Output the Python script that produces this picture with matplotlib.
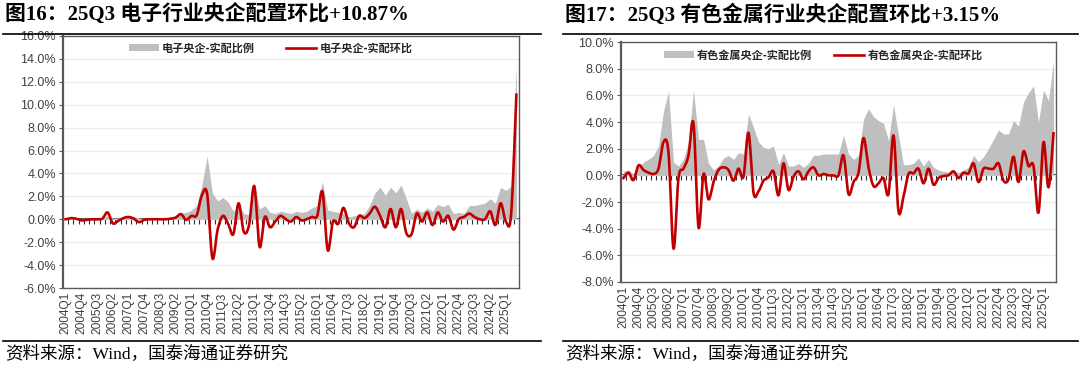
import numpy as np
import matplotlib
matplotlib.use("Agg")
import matplotlib.pyplot as plt
from matplotlib.lines import Line2D
from matplotlib.ticker import FuncFormatter

plt.rcParams['font.family'] = ['Liberation Sans', 'Noto Sans CJK SC']

# ---------------- data ----------------
quarters = [f"{y}Q{q}" for y in range(2004, 2026) for q in range(1, 5)][:87]  # 2004Q1 .. 2025Q3

elec_ratio = [0.05, 0.1, 0.05, 0.0, 0.0, 0.05, 0.05, 0.1, 0.3, 0.1,
              0.1, 0.2, 0.3, 0.25, 0.1, 0.05, 0.05, 0.05, 0.05, 0.05,
              0.1, 0.3, 0.55, 0.6, 0.8, 1.2, 3.0, 5.5, 2.3, 1.6,
              1.9, 1.5, 0.7, 1.3, 0.5, 0.4, 3.1, 0.9, 1.2, 0.6,
              0.5, 0.7, 0.6, 0.5, 0.7, 0.6, 0.7, 1.0, 1.2, 3.3,
              0.8, 0.7, 0.6, 0.5, 0.2, 0.3, 0.4, 0.5, 1.2, 2.3,
              2.8, 2.1, 2.8, 2.3, 3.0, 1.8, 0.5, 0.9, 0.6, 1.0,
              0.7, 1.3, 1.1, 1.3, 0.5, 0.6, 0.5, 1.2, 1.2, 1.3,
              1.4, 1.8, 1.4, 2.8, 2.5, 2.9, 13.7]
elec_qoq = [0.0, 0.1, 0.05, -0.1, -0.05, 0.0, 0.0, 0.05, 0.6, -0.35,
            -0.15, 0.1, 0.2, 0.05, -0.25, -0.05, 0.0, 0.0, 0.0, 0.0,
            0.05, 0.15, 0.45, -0.05, 0.3, 0.35, 2.1, 2.2, -3.4, -0.9,
            0.3, -0.4, -1.3, 1.4, -1.1, -0.5, 2.9, -2.4, 0.2, -0.7,
            -0.2, 0.3, 0.0, -0.2, 0.2, -0.1, 0.0, 0.2, 0.3, 2.4,
            -2.7, -0.2, -0.4, 1.0, -0.3, -0.7, 0.3, 0.1, 0.5, 1.1,
            0.3, -0.7, 0.9, -0.7, 0.9, -1.2, -1.3, 0.5, -0.2, 0.6,
            -0.5, 0.6, -0.2, 0.3, -0.9, 0.0, 0.2, 0.5, 0.2, 0.0,
            0.0, 0.7, -0.5, 1.4, -0.2, 0.45, 10.87]

metal_ratio = [0.3, 0.4, 0.1, 0.6, 1.0, 1.2, 1.5, 2.2, 4.8, 6.3,
               1.0, 0.7, 1.2, 2.5, 6.4, 2.7, 2.7, 0.9, 0.4, 0.7,
               1.3, 1.5, 1.2, 1.7, 1.6, 4.6, 3.6, 2.5, 2.1, 2.0,
               2.2, 0.8, 1.7, 0.7, 0.7, 0.9, 0.6, 0.9, 1.5, 1.5,
               1.6, 1.6, 1.6, 1.6, 3.0, 1.6, 1.2, 1.5, 4.2, 5.0,
               4.4, 4.1, 3.9, 2.6, 5.3, 3.0, 0.8, 0.8, 0.9, 1.3,
               0.7, 1.2, 0.6, 0.4, 0.3, 0.25, 0.4, 0.2, 0.4, 0.6,
               1.5, 1.0, 1.4, 2.0, 2.7, 3.4, 3.1, 3.1, 4.1, 3.7,
               5.5, 6.2, 6.7, 4.0, 6.4, 5.6, 8.6]
metal_qoq = [-0.2, 0.2, -0.35, 0.75, 0.4, 0.2, 0.1, 0.5, 2.5, 1.7,
             -5.5, -0.2, 0.5, 1.5, 3.9, -3.9, 0.1, -1.8, -0.5, 0.4,
             0.6, 0.4, -0.4, 0.5, -0.1, 3.2, -1.3, -1.2, -0.4, -0.15,
             0.3, -1.5, 0.9, -1.1, -0.1, 0.3, -0.3, 0.3, 0.6, 0.0,
             0.1, 0.0, 0.0, 0.0, 1.5, -1.4, -0.5, 0.2, 2.8, 0.6,
             -0.8, -0.6, -0.2, -1.4, 3.0, -2.7, -1.6, 0.1, 0.15, 0.5,
             -0.6, 0.5, -0.7, -0.2, -0.05, 0.0, 0.3, -0.2, 0.2, 0.15,
             0.9, -0.5, 0.5, 0.5, 0.5, 0.9, -0.4, -0.3, 1.4, -0.5,
             1.8, 0.7, 0.7, -2.8, 2.5, -0.9, 3.15]

GRAY = '#BFBFBF'
RED = '#C00000'
AXC = '#595959'
TXT = '#404040'


def smooth(y, n=12):
    """Catmull-Rom style smoothing (like Excel 'smoothed line')."""
    y = np.asarray(y, float)
    x = np.arange(len(y), dtype=float)
    P = np.concatenate([[y[0]], y, [y[-1]]])
    X = np.concatenate([[x[0]], x, [x[-1]]])
    xs, ys = [], []
    t = np.linspace(0, 1, n, endpoint=False)
    for i in range(1, len(P) - 2):
        p0, p1, p2, p3 = P[i - 1], P[i], P[i + 1], P[i + 2]
        x0, x1, x2, x3 = X[i - 1], X[i], X[i + 1], X[i + 2]
        m1y, m2y = (p2 - p0) / 2, (p3 - p1) / 2
        m1x, m2x = (x2 - x0) / 2, (x3 - x1) / 2
        h00 = 2 * t**3 - 3 * t**2 + 1
        h10 = t**3 - 2 * t**2 + t
        h01 = -2 * t**3 + 3 * t**2
        h11 = t**3 - t**2
        xs.append(h00 * x1 + h10 * m1x + h01 * x2 + h11 * m2x)
        ys.append(h00 * p1 + h10 * m1y + h01 * p2 + h11 * m2y)
    xs.append([x[-1]]); ys.append([y[-1]])
    return np.concatenate(xs), np.concatenate(ys)


fig = plt.figure(figsize=(10.8, 3.67), dpi=100)


def panel(rect, ratio, qoq, ylim, lab_ratio, lab_qoq, leg_x, leg_y, colsp):
    ax = fig.add_axes(rect)
    x = np.arange(len(ratio))
    ax.fill_between(x, 0, ratio, color=GRAY, linewidth=0, label=lab_ratio, zorder=2)
    sx, sy = smooth(qoq)
    ax.plot(sx, sy, color=RED, lw=1.9, label=lab_qoq, zorder=4,
            solid_joinstyle='round')
    ax.set_xlim(-0.5, len(ratio) - 0.5)
    ax.set_ylim(*ylim)
    ax.set_yticks(np.arange(ylim[0], ylim[1] + 0.01, 2))
    ax.yaxis.set_major_formatter(FuncFormatter(lambda v, p: f"{v:.1f}%"))
    ax.yaxis.grid(True, color='#EBEBEB', lw=0.8, zorder=0)
    ax.set_axisbelow(True)
    ax.set_xticks(x[::3])
    ax.set_xticklabels(quarters[::3], rotation=90, fontsize=8.6, color=TXT)
    ax.tick_params(axis='x', length=0, pad=3)
    ax.tick_params(axis='y', length=3, width=0.8, color=AXC, labelsize=9,
                   labelcolor=TXT, pad=2)
    for s in ax.spines.values():
        s.set_color(AXC)
        s.set_linewidth(1.0)
    ax.spines['left'].set_linewidth(1.6)
    # zero axis line with category tick marks
    zf = (0 - ylim[0]) / (ylim[1] - ylim[0])
    sec = ax.secondary_xaxis(zf)
    sec.set_xticks(np.arange(-0.5, len(ratio), 1))
    sec.tick_params(axis='x', direction='out', length=3.5, width=0.8,
                    color='#303030', labelbottom=False, labeltop=False)
    for s in sec.spines.values():
        s.set_color('#303030')
        s.set_linewidth(1.2)
    leg = ax.legend(loc='center', bbox_to_anchor=(leg_x, leg_y), ncol=2,
                    frameon=False, handlelength=2.7, handleheight=0.6,
                    columnspacing=colsp, handletextpad=0.3,
                    prop={'family': ['Noto Sans CJK SC'], 'weight': 'bold', 'size': 8})
    for t in leg.get_texts():
        t.set_color('#262626')
    return ax


panel([63 / 1080, 1 - 288 / 367, 456 / 1080, 252 / 367], elec_ratio, elec_qoq, (-6, 16),
      '电子央企-实配比例', '电子央企-实配环比', 0.455, 0.952, 2.8)
panel([621 / 1080, 1 - 282 / 367, 435 / 1080, 240 / 367], metal_ratio, metal_qoq, (-8, 10),
      '有色金属央企-实配比例', '有色金属央企-实配环比', 0.465, 0.946, 2.0)

# titles, rules, source notes
tfam = ['Liberation Serif', 'Noto Sans CJK SC']
fig.text(5 / 1080, 1 - 15 / 367, '图16：25Q3 电子行业央企配置环比+10.87%', fontsize=15,
         weight='bold', family=tfam, va='center', ha='left', color='black')
fig.text(565 / 1080, 1 - 15 / 367, '图17：25Q3 有色金属行业央企配置环比+3.15%', fontsize=15,
         weight='bold', family=tfam, va='center', ha='left', color='black')
for x0, x1 in [(3, 541), (563, 1078)]:
    fig.add_artist(Line2D([x0 / 1080, x1 / 1080], [1 - 34 / 367] * 2, color='black', lw=1.2))
    fig.add_artist(Line2D([x0 / 1080, x1 / 1080], [1 - 341 / 367] * 2, color='black', lw=1.2))
fig.text(5 / 1080, 1 - 354 / 367, '资料来源：Wind，国泰海通证券研究', fontsize=12.6,
         family=tfam, va='center', ha='left', color='black')
fig.text(565 / 1080, 1 - 354 / 367, '资料来源：Wind，国泰海通证券研究', fontsize=12.6,
         family=tfam, va='center', ha='left', color='black')

fig.savefig('out.png', dpi=100)
